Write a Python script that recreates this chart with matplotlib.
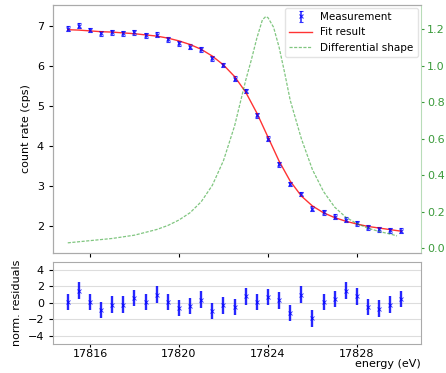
import matplotlib
matplotlib.use('Agg')
import matplotlib.pyplot as plt

# measured points (energy in eV, count rate in cps)
energy = [17815.0, 17815.5, 17816.0, 17816.5, 17817.0, 17817.5, 17818.0, 17818.5,
          17819.0, 17819.5, 17820.0, 17820.5, 17821.0, 17821.5, 17822.0, 17822.5,
          17823.0, 17823.5, 17824.0, 17824.5, 17825.0, 17825.5, 17826.0, 17826.5,
          17827.0, 17827.5, 17828.0, 17828.5, 17829.0, 17829.5, 17830.0]
rate = [6.92, 7.00, 6.89, 6.81, 6.83, 6.81, 6.83, 6.76, 6.78, 6.66, 6.56, 6.48,
        6.41, 6.19, 6.02, 5.68, 5.37, 4.76, 4.18, 3.54, 3.05, 2.80, 2.43, 2.34,
        2.23, 2.16, 2.07, 1.97, 1.92, 1.89, 1.88]
rate_err = [0.06] * len(energy)

fit_rate = [6.90, 6.89, 6.87, 6.85, 6.84, 6.82, 6.80, 6.77, 6.74, 6.69, 6.62, 6.53,
            6.41, 6.24, 6.02, 5.73, 5.34, 4.82, 4.22, 3.62, 3.12, 2.75, 2.50, 2.33,
            2.21, 2.12, 2.05, 1.99, 1.95, 1.91, 1.87]

# differential shape (right axis)
diff_energy = [17815.0, 17816.0, 17817.0, 17818.0, 17819.0, 17819.5, 17820.0, 17820.5,
               17821.0, 17821.5, 17822.0, 17822.5, 17823.0, 17823.25, 17823.5, 17823.75,
               17823.9, 17824.0, 17824.25, 17824.5, 17824.75, 17825.0, 17825.5, 17826.0,
               17826.5, 17827.0, 17827.5, 17828.0, 17828.5, 17829.0, 17829.5, 17829.8]
diff_shape = [0.030, 0.042, 0.054, 0.072, 0.103, 0.125, 0.155, 0.195, 0.255, 0.345,
              0.48, 0.67, 0.92, 1.03, 1.15, 1.25, 1.268, 1.262, 1.21, 1.10, 0.96, 0.81,
              0.60, 0.43, 0.31, 0.225, 0.17, 0.135, 0.11, 0.092, 0.078, 0.068]

# normalised residuals
residuals = [0.1, 1.5, 0.1, -0.9, -0.2, -0.2, 0.6, 0.1, 1.0, 0.1, -0.6, -0.4, 0.4,
             -1.0, -0.3, -0.5, 0.8, 0.1, 0.7, 0.3, -1.2, 1.0, -1.9, 0.1, 0.5, 1.5,
             0.8, -0.5, -0.7, -0.2, 0.5]
res_err = [1.0] * len(energy)

plt.rcParams['font.size'] = 8
green = '#3a9a3a'

fig = plt.figure(figsize=(4.46, 3.73), dpi=100)
ax = fig.add_axes([0.119, 0.322, 0.825, 0.665])
ax_res = fig.add_axes([0.119, 0.078, 0.825, 0.22], sharex=ax)
ax2 = ax.twinx()

meas = ax.errorbar(energy, rate, yerr=rate_err, fmt='x', color='b', ms=3, mew=0.8,
                   elinewidth=1.2, capsize=1.5, alpha=0.8, label='Measurement')
fit_line, = ax.plot(energy, fit_rate, '-', color='r', lw=1, alpha=0.8, label='Fit result')
diff_line, = ax2.plot(diff_energy, diff_shape, '--', color='tab:green', lw=0.9,
                      dashes=(2.5, 1.2), alpha=0.6, label='Differential shape')

ax.set_xlim(17814.34, 17830.88)
ax.set_ylim(1.33, 7.52)
ax.set_yticks([2, 3, 4, 5, 6, 7])
ax.set_ylabel('count rate (cps)')
ax.tick_params(labelbottom=False, length=3)

ax2.set_ylim(-0.025, 1.332)
ax2.set_yticks([0.0, 0.2, 0.4, 0.6, 0.8, 1.0, 1.2])
ax2.tick_params(axis='y', colors=green, length=2.5, pad=2)
ax2.spines['right'].set_color('#b8dcb8')
ax2.set_ylabel('differential shape (a.u.)', color=green, labelpad=2)

for a in (ax, ax2, ax_res):
    for s in ['left', 'top', 'bottom']:
        a.spines[s].set_color('#aaaaaa')
ax.spines['right'].set_visible(False)
ax_res.spines['right'].set_color('#aaaaaa')

ax.legend([meas, fit_line, diff_line], ['Measurement', 'Fit result', 'Differential shape'],
          loc='upper right', fontsize=7.5, framealpha=0.8, edgecolor='#dddddd',
          handlelength=2.2, borderaxespad=0.3)

ax_res.errorbar(energy, residuals, yerr=res_err, fmt='x', color='b', ms=3, mew=0.6,
                elinewidth=1.7, capsize=0, alpha=0.85)
ax_res.set_ylim(-5, 5)
ax_res.set_yticks([-4, -2, 0, 2, 4])
ax_res.set_xticks([17816, 17820, 17824, 17828])
ax_res.tick_params(axis='x', length=2, pad=1.5)
ax_res.tick_params(axis='y', length=3)
ax_res.yaxis.grid(True, color='#dddddd', lw=0.8)
ax_res.set_axisbelow(True)
ax_res.set_ylabel('norm. residuals')
ax_res.set_xlabel('energy (eV)', loc='right', labelpad=0)

fig.savefig('out.png', dpi=100)
